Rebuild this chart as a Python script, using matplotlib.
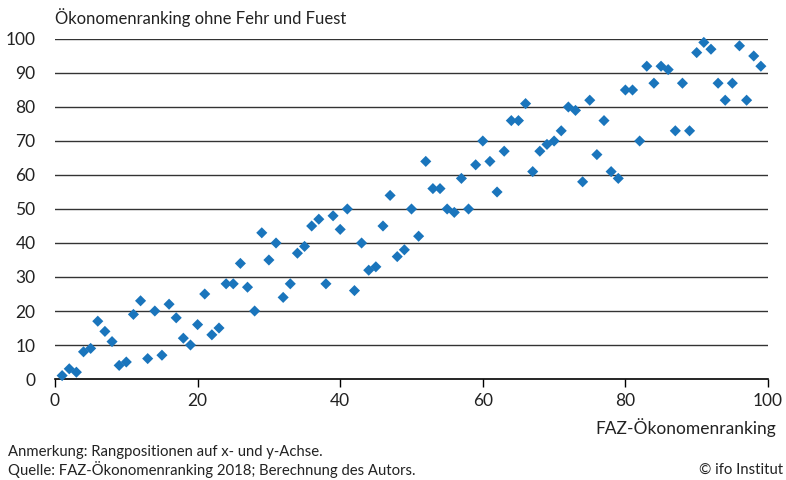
import matplotlib
matplotlib.use("Agg")
import matplotlib.pyplot as plt

plt.rcParams['font.family'] = ['Lato', 'DejaVu Sans']

x_rank = list(range(1, 100))
y_rank = [1, 3, 2, 8, 9, 17, 14, 11, 4, 5,
          19, 23, 6, 20, 7, 22, 18, 12, 10, 16,
          25, 13, 15, 28, 28, 34, 27, 20, 43, 35,
          40, 24, 28, 37, 39, 45, 47, 28, 48, 44,
          50, 26, 40, 32, 33, 45, 54, 36, 38, 50,
          42, 64, 56, 56, 50, 49, 59, 50, 63, 70,
          64, 55, 67, 76, 76, 81, 61, 67, 69, 70,
          73, 80, 79, 58, 82, 66, 76, 61, 59, 85,
          85, 70, 92, 87, 92, 91, 73, 87, 73, 96,
          99, 97, 87, 82, 87, 98, 82, 95, 92]

title = "Ökonomenranking ohne Fehr und Fuest"
xlabel = "FAZ-Ökonomenranking"
note1 = "Anmerkung: Rangpositionen auf x- und y-Achse."
note2 = "Quelle: FAZ-Ökonomenranking 2018; Berechnung des Autors."
credit = "© ifo Institut"

fig = plt.figure(figsize=(7.86, 4.8), dpi=100)
ax = fig.add_axes([55/786, 1-379/480, (768-55)/786, (379-39)/480])

ax.set_xlim(0, 100)
ax.set_ylim(0, 100)
ax.set_yticks(range(0, 101, 10))
ax.set_xticks(range(0, 101, 20))
for y in range(10, 101, 10):
    ax.axhline(y, color='#333333', lw=1.0, zorder=1)

ax.scatter(x_rank, y_rank, marker='D', s=32, color='#1a75bc', edgecolors='none',
           zorder=3, clip_on=False)

for s in ['top', 'right', 'left']:
    ax.spines[s].set_visible(False)
ax.spines['bottom'].set_color('#000000')
ax.spines['bottom'].set_linewidth(1.2)
ax.tick_params(axis='y', length=0, pad=14, labelsize=12.5, colors='#222222')
ax.tick_params(axis='x', length=6, width=1, direction='out', pad=4, labelsize=12.5,
               colors='#000000', labelcolor='#222222')

fig.text(55/786, 1-18/480, title, ha='left', va='center', fontsize=12, color='#222222')
fig.text(776/786, 1-428/480, xlabel, ha='right', va='center', fontsize=12.5, color='#222222')
fig.text(8/786, 1-452/480, note1, ha='left', va='center', fontsize=10.7, color='#222222')
fig.text(8/786, 1-470/480, note2, ha='left', va='center', fontsize=10.7, color='#222222')
fig.text(783/786, 1-470/480, credit, ha='right', va='center', fontsize=10.7, color='#222222')

fig.savefig("out.png", dpi=100)
